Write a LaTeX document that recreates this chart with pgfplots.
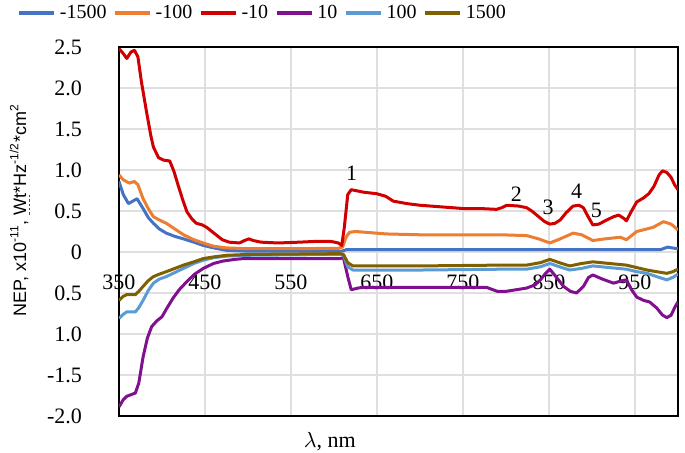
\documentclass[border=0pt]{standalone}
\usepackage{fontspec}
\setmainfont{Liberation Serif}
\setsansfont{Liberation Sans}
\usepackage{pgfplots}
\pgfplotsset{compat=1.18}

\definecolor{cM1500}{HTML}{4472C4}
\definecolor{cM100}{HTML}{ED7D31}
\definecolor{cM10}{HTML}{D00000}
\definecolor{cP10}{HTML}{80108F}
\definecolor{cP100}{HTML}{5B9BD5}
\definecolor{cP1500}{HTML}{7F6000}

% red dotted underline (spell-check mark under "Wt")
\newcommand\redul[1]{\setbox0\hbox{#1}\rlap{\textcolor{red}{\hbox to \wd0{\xleaders\hbox{\rule[-0.45ex]{0.25ex}{0.16ex}\kern0.15ex}\hfil}}}\box0}

\begin{document}
\begin{tikzpicture}
\begin{axis}[
  at={(0,0)}, anchor=south west,
  scale only axis,
  width=279.5pt, height=184.5pt,
  xmin=350, xmax=1000, ymin=-2, ymax=2.5,
  xtick={350,450,...,950},
  xticklabels={350,450,550,650,750,850,950},
  ytick={-2,-1.5,-1,-0.5,0,0.5,1,1.5,2,2.5},
  yticklabels={-2.0,-1.5,1.0,0.5,0,0.5,1.0,1.5,2.0,2.5},
  grid=major,
  grid style={draw=gray!25, line width=0.8pt},
  major tick length=0pt,
  axis line style={black, line width=0.9pt},
  tick label style={font=\fontsize{11}{12}\selectfont},
  yticklabel style={xshift=-15pt},
  xticklabel style={yshift=74pt},
  xlabel={$\lambda$, nm},
  xlabel style={at={(axis description cs:0.377,-0.07)}, anchor=center,
                font=\fontsize{11}{12}\selectfont},
  ylabel={NEP, x10\textsuperscript{-11}, \redul{Wt}*Hz\textsuperscript{-1/2}*cm\textsuperscript{2}},
  ylabel style={at={(axis description cs:-0.177,0.558)}, anchor=center,
                font=\sffamily\fontsize{9}{10}\selectfont},
  legend columns=6,
  legend style={draw=none, fill=none, inner sep=0pt,
                at={(axis description cs:-0.182,1.092)}, anchor=west,
                font=\fontsize{10}{12}\selectfont,
                /tikz/every even column/.append style={column sep=1.5pt}},
  legend image code/.code={\draw[#1, line width=1.6pt] (0pt,0pt) -- (17.5pt,0pt);},
  every axis plot/.append style={line width=1.5pt, line join=round},
]
% -1500
\addplot[cM1500] coordinates {
(350,0.86)(355,0.70)(361,0.59)(366,0.62)(371,0.65)(378,0.53)(384,0.42)(390,0.35)
(397,0.28)(405,0.23)(415,0.19)(425,0.16)(437,0.12)(448,0.08)(460,0.05)(475,0.02)
(500,0.01)(609,0.01)(615,0.03)(700,0.03)(980,0.03)(988,0.06)(993,0.05)(1000,0.04)};
% -100
\addplot[cM100] coordinates {
(350,0.94)(355,0.88)(362,0.84)(368,0.86)(372,0.82)(378,0.65)(384,0.53)(390,0.43)
(397,0.39)(405,0.35)(415,0.28)(425,0.21)(437,0.15)(448,0.11)(460,0.07)(475,0.05)
(500,0.04)(550,0.04)(605,0.045)(610,0.06)(614,0.18)(618,0.24)(625,0.25)(661,0.22)
(700,0.21)(793,0.21)(824,0.20)(838,0.16)(851,0.11)(863,0.16)(878,0.23)(888,0.21)
(901,0.14)(915,0.16)(933,0.18)(940,0.15)(952,0.25)(971,0.30)(983,0.37)(992,0.34)
(1000,0.27)};
% -10
\addplot[cM10] coordinates {
(350,2.48)(355,2.42)(359,2.36)(364,2.44)(368,2.46)(372,2.38)(376,2.08)(382,1.71)
(387,1.42)(390,1.28)(396,1.15)(402,1.12)(409,1.11)(414,0.98)(418,0.84)(424,0.64)
(429,0.49)(435,0.40)(440,0.35)(447,0.33)(452,0.30)(458,0.25)(464,0.20)(470,0.15)
(478,0.12)(490,0.11)(496,0.14)(501,0.16)(506,0.14)(515,0.12)(535,0.11)(560,0.12)
(580,0.13)(596,0.13)(605,0.11)(609,0.08)(612,0.30)(616,0.70)(620,0.76)(634,0.73)
(650,0.71)(660,0.68)(669,0.62)(685,0.59)(700,0.57)(725,0.55)(750,0.53)(770,0.53)
(789,0.52)(795,0.54)(801,0.57)(815,0.56)(824,0.54)(830,0.50)(838,0.43)(845,0.37)
(851,0.34)(857,0.35)(863,0.39)(870,0.48)(878,0.56)(885,0.57)(890,0.54)(895,0.44)
(901,0.33)(908,0.34)(917,0.39)(925,0.43)(931,0.45)(937,0.41)(940,0.38)(946,0.50)
(952,0.61)(960,0.66)(966,0.71)(972,0.80)(978,0.94)(982,0.99)(987,0.97)(992,0.91)
(996,0.82)(1000,0.76)};
% 10
\addplot[cP10] coordinates {
(350,-1.89)(355,-1.80)(359,-1.76)(369,-1.72)(373,-1.60)(378,-1.28)(383,-1.05)
(388,-0.91)(394,-0.84)(400,-0.79)(406,-0.68)(413,-0.56)(420,-0.46)(429,-0.36)
(438,-0.27)(448,-0.20)(460,-0.14)(471,-0.11)(485,-0.09)(495,-0.08)(550,-0.08)
(607,-0.08)(611,-0.07)(616,-0.30)(620,-0.46)(628,-0.44)(634,-0.43)(700,-0.43)
(777,-0.43)(790,-0.48)(800,-0.48)(812,-0.46)(824,-0.44)(834,-0.40)(840,-0.34)
(846,-0.26)(851,-0.21)(858,-0.30)(867,-0.42)(875,-0.48)(882,-0.50)(890,-0.42)
(896,-0.31)(901,-0.28)(912,-0.33)(925,-0.38)(935,-0.35)(940,-0.34)(946,-0.46)
(952,-0.55)(960,-0.59)(967,-0.61)(975,-0.68)(982,-0.77)(987,-0.80)(992,-0.77)
(997,-0.66)(1000,-0.61)};
% 100
\addplot[cP100] coordinates {
(350,-0.81)(355,-0.76)(359,-0.73)(369,-0.73)(373,-0.68)(378,-0.59)(384,-0.47)
(390,-0.38)(397,-0.33)(405,-0.30)(415,-0.25)(425,-0.20)(437,-0.14)(448,-0.10)
(460,-0.07)(475,-0.05)(500,-0.04)(607,-0.03)(611,-0.04)(616,-0.18)(622,-0.22)
(700,-0.22)(793,-0.21)(824,-0.21)(840,-0.18)(851,-0.14)(862,-0.18)(874,-0.22)
(888,-0.20)(901,-0.17)(920,-0.19)(940,-0.21)(952,-0.24)(964,-0.26)(975,-0.30)
(987,-0.34)(994,-0.31)(1000,-0.27)};
% 1500
\addplot[cP1500] coordinates {
(350,-0.59)(355,-0.54)(359,-0.52)(369,-0.52)(373,-0.48)(378,-0.42)(384,-0.35)
(390,-0.30)(397,-0.27)(405,-0.24)(415,-0.20)(425,-0.16)(437,-0.12)(448,-0.08)
(460,-0.06)(475,-0.04)(500,-0.03)(607,-0.02)(611,-0.03)(616,-0.13)(622,-0.17)
(661,-0.17)(700,-0.17)(793,-0.16)(824,-0.16)(840,-0.13)(851,-0.09)(862,-0.13)
(874,-0.17)(888,-0.14)(901,-0.12)(920,-0.14)(940,-0.16)(952,-0.19)(964,-0.22)
(975,-0.24)(987,-0.26)(994,-0.24)(1000,-0.21)};
\legend{-1500,-100,-10,10,100,1500}
% peak numbers
\node[font=\fontsize{11}{12}\selectfont] at (axis cs:620.5,0.96) {1};
\node[font=\fontsize{11}{12}\selectfont] at (axis cs:812,0.70) {2};
\node[font=\fontsize{11}{12}\selectfont] at (axis cs:849,0.55) {3};
\node[font=\fontsize{11}{12}\selectfont] at (axis cs:882,0.74) {4};
\node[font=\fontsize{11}{12}\selectfont] at (axis cs:905,0.51) {5};
\end{axis}
\pgfresetboundingbox
\path (-59.5pt,-18.5pt) rectangle (283pt,208pt);
\end{tikzpicture}
\end{document}
